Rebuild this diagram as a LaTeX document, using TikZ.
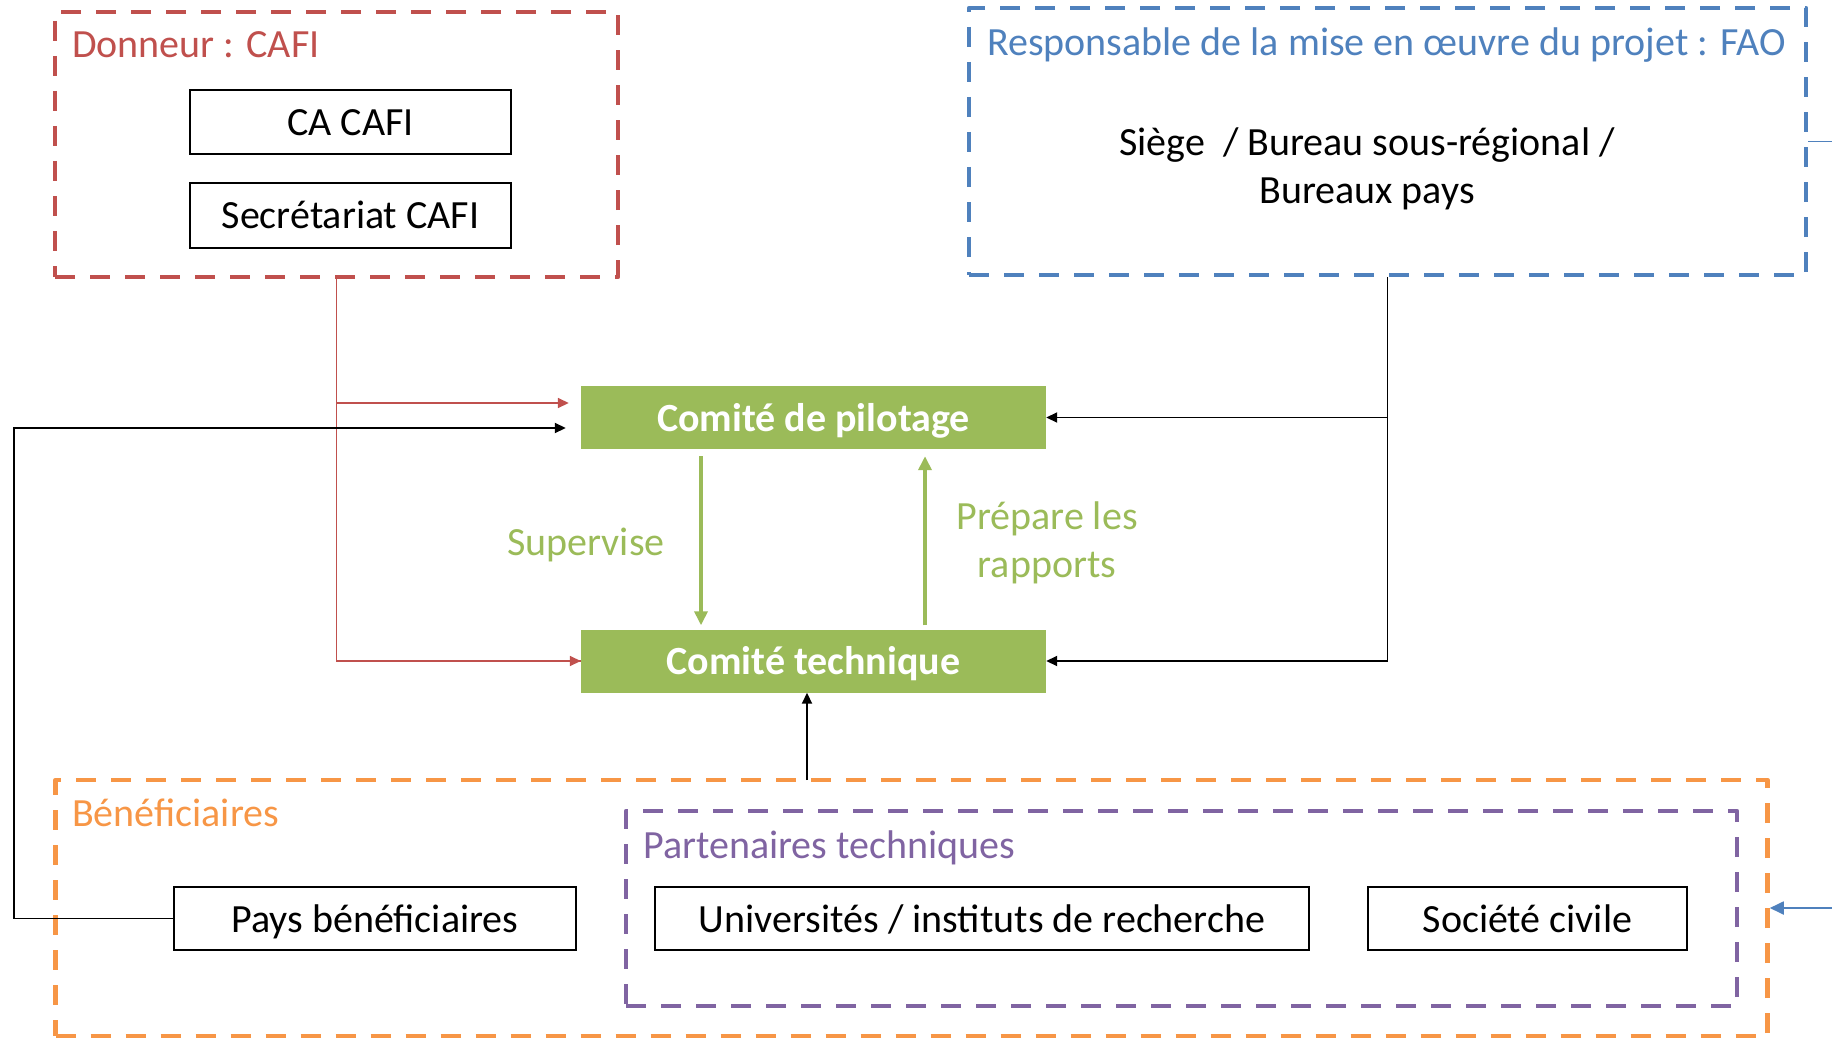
\documentclass[tikz,border=0pt]{standalone}
\usepackage{fontspec}
\setmainfont{Carlito}
\usetikzlibrary{arrows.meta,calc}
\definecolor{cred}{HTML}{C0504D}
\definecolor{cblue}{HTML}{4F81BD}
\definecolor{corange}{HTML}{F79646}
\definecolor{cpurple}{HTML}{8064A2}
\definecolor{cgreen}{HTML}{9BBB59}
\newcommand{\fs}{\fontsize{40}{48}\selectfont}
\tikzset{
  dbox/.style={draw, rectangle, line width=4.5pt, dash pattern=on 20pt off 15pt, inner sep=0pt, line join=round},
  wbox/.style={draw=black, rectangle, line width=1.8pt, fill=white, inner sep=0pt, font=\fs, text height=27pt, text depth=0pt},
  gbox/.style={fill=cgreen, rectangle, text=white, font=\fs\bfseries, inner sep=0pt, minimum width=465pt, minimum height=63pt, text height=27pt, text depth=0pt},
  lbl/.style={anchor=base west, font=\fs, inner sep=0pt},
  blk/.style={draw=black, line width=1.8pt, -{Triangle[length=11pt,width=10pt]}},
  redc/.style={draw=cred, line width=1.6pt},
  grn/.style={draw=cgreen, line width=4pt, -{Triangle[length=14pt,width=13pt]}},
  bluec/.style={draw=cblue, line width=1.8pt, -{Triangle[length=14pt,width=13pt]}}
}
\begin{document}
\begin{tikzpicture}[x=1pt,y=-1pt]
\useasboundingbox (0,0) rectangle (1832,1038);
% dashed groups
\node[dbox, draw=cred, minimum width=563pt, minimum height=265pt] (red) at (336.5,144.5) {};
\node[dbox, draw=cblue, minimum width=837pt, minimum height=267pt] (blue) at (1387.5,141.5) {};
\node[dbox, draw=corange, minimum width=1712pt, minimum height=256pt] (orange) at (911.5,908) {};
\node[dbox, draw=cpurple, minimum width=1111pt, minimum height=195pt] (purple) at (1181.5,908.5) {};
% labels
\node[lbl, text=cred] (dlab) at (72,58) {Donneur : CAFI};
\node[lbl, text=cblue] (rlab) at (987,56) {Responsable de la mise en œuvre du projet : FAO};
\node[lbl, text=corange] (blab) at (72,826) {Bénéficiaires};
\node[lbl, text=cpurple] (plab) at (643,858) {Partenaires techniques};
\node[font=\fs, align=center, inner sep=0pt, anchor=base] (siege) at (1367,204) {Siège~~/ Bureau sous-régional /\\Bureaux pays};
% boxes
\node[wbox, minimum width=321pt, minimum height=64pt] (ca) at (350.5,122) {CA CAFI};
\node[wbox, minimum width=321pt, minimum height=65pt] (sec) at (350.5,215.5) {Secrétariat CAFI};
\node[gbox] (pil) at (813.5,417.5) {Comité de pilotage};
\node[gbox] (tech) at (813.5,661) {Comité technique};
\node[wbox, minimum width=402pt, minimum height=63pt] (pays) at (375,918.5) {Pays bénéficiaires};
\node[wbox, minimum width=654pt, minimum height=63pt] (univ) at (982,918.5) {Universités / instituts de recherche};
\node[wbox, minimum width=319pt, minimum height=63pt] (soc) at (1527.5,918.5) {Société civile};
% green arrows and labels
\coordinate (s1) at (701,0);
\coordinate (s2) at (925,0);
\draw[grn, shorten <=7pt, shorten >=4pt] (pil.south -| s1) -- (tech.north -| s1);
\draw[grn, shorten <=4pt, shorten >=7pt] (tech.north -| s2) -- (pil.south -| s2);
\node[font=\fs, text=cgreen, inner sep=0pt, anchor=base] (sup) at (586,555) {Supervise};
\node[font=\fs, text=cgreen, inner sep=0pt, align=center, anchor=base] (prep) at (1047,577) {Prépare les\\rapports};
% red connectors
\coordinate (rj) at (0,403);
\draw[redc] (red.south) |- (tech.west);
\draw[redc, -{Triangle[length=11pt,width=10pt]}, shorten >=12pt] (red.south |- rj) -- (pil.west |- rj);
\draw[redc, -{Triangle[length=11pt,width=10pt]}] (red.south |- tech.west) -- (tech.west);
% black connectors
\coordinate (lft) at (14,428);
\draw[blk, shorten >=15pt] (pays.west) -| (lft) -- (pil.west |- lft);
\draw[blk] (blue.south) |- (tech.east);
\draw[blk] (blue.south |- pil.east) -- (pil.east);
\coordinate (ob) at (807,780);
\draw[blk] (ob) -- (ob |- tech.south);
% blue connector (leaves the page on the right)
\draw[bluec] (blue.east) -- ++(80,0) |- (orange.east);
\end{tikzpicture}
\end{document}
